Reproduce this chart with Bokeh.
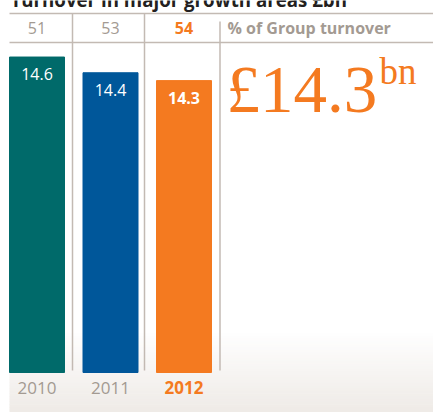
from bokeh.plotting import figure
from bokeh.models import Range1d
from bokeh.embed import file_html
from bokeh.resources import INLINE
from bokeh.core.properties import value

title_text = "Turnover in major growth areas £bn"
years = ["2010", "2011", "2012"]
turnover = [14.6, 14.4, 14.3]
pct_group = [51, 53, 54]
value_labels = ["14.6", "14.4", "14.3"]
headline = "£14.3"
headline_unit = "bn"
pct_caption = "% of Group turnover"

TEAL = "#006a6a"
BLUE = "#00579a"
ORANGE = "#f47a20"
GREY_TXT = "#a39a92"
GREY_LINE = "#c3bab3"
bar_colors = [TEAL, BLUE, ORANGE]

W, H = 433, 412
p = figure(width=W, height=H, output_backend="svg", toolbar_location=None,
           x_range=Range1d(0, W), y_range=Range1d(0, H),
           min_border=0, min_border_left=0, min_border_right=0,
           min_border_top=0, min_border_bottom=0)
p.axis.visible = False
p.grid.visible = False
p.outline_line_color = None
p.background_fill_color = "white"
p.border_fill_color = "white"

def sy(screen_y):
    return H - screen_y

# bottom gradient background
g0, g1 = 330, 412
steps = 30
for i in range(steps):
    t = i / (steps - 1)
    r = int(255 - (255 - 239) * t)
    g = int(255 - (255 - 235) * t)
    b = int(255 - (255 - 231) * t)
    ya = g0 + (g1 - g0) * i / steps
    yb = g0 + (g1 - g0) * (i + 1) / steps
    p.quad(left=9, right=W, top=sy(ya), bottom=sy(yb) - 0.5,
           fill_color="#%02x%02x%02x" % (r, g, b), line_color=None)

# value scale for bars (baseline value at bar foot, px per unit)
base_px = sy(372)
v0 = 10.585
k = 78.57
vstart = v0 - base_px / k
vend = vstart + H / k
p.extra_y_ranges = {"val": Range1d(vstart, vend)}

xc = [36.5 + i * 73.5 for i in range(len(years))]
p.vbar(x=xc, top=turnover, bottom=v0, width=55, color=bar_colors,
       y_range_name="val")

# grid lines
for yy in (13, 42):
    p.line([9, W], [sy(yy), sy(yy)], line_color=GREY_LINE, line_width=1.5)
for xx, ytop in ((72, 13), (144, 13), (219.5, 21)):
    p.line([xx, xx], [sy(ytop), sy(370)], line_color=GREY_LINE, line_width=1.5)

FONT = value("Open Sans")
weights = ["normal", "normal", "bold"]
pct_colors = [GREY_TXT, GREY_TXT, ORANGE]

# title (cut off at the top edge, as in the source)
p.text(x=[10], y=[sy(-1.5)], text=[title_text], text_font=FONT,
       text_font_size="18.7px", text_color="#231f20", text_font_style="bold",
       text_align="left", text_baseline="middle")

for i in range(len(years)):
    p.text(x=[xc[i]], y=[sy(27)], text=[str(pct_group[i])], text_font=FONT,
           text_font_size="16px", text_color=pct_colors[i],
           text_font_style=weights[i], text_align="center", text_baseline="middle")
    p.text(x=[xc[i]], y=[sy(387)], text=[years[i]], text_font=FONT,
           text_font_size="17px", text_color=pct_colors[i],
           text_font_style=weights[i], text_align="center", text_baseline="middle")
    p.text(x=[xc[i]], y=[turnover[i]], text=[value_labels[i]], text_font=FONT,
           text_font_size="16px", text_color="white", text_font_style=weights[i],
           text_align="center", text_baseline="middle", y_offset=17,
           y_range_name="val")

p.text(x=[227], y=[sy(27)], text=[pct_caption], text_font=FONT,
       text_font_size="16px", text_color=GREY_TXT, text_font_style="bold",
       text_align="left", text_baseline="middle")

SERIF = value("Liberation Serif")
p.text(x=[226], y=[sy(88)], text=[headline], text_font=SERIF,
       text_font_size="67px", text_color=ORANGE, text_align="left",
       text_baseline="middle")
p.text(x=[379], y=[sy(71)], text=[headline_unit], text_font=SERIF,
       text_font_size="37px", text_color=ORANGE, text_align="left",
       text_baseline="middle")

open("out.html", "w").write(file_html(p, INLINE))
